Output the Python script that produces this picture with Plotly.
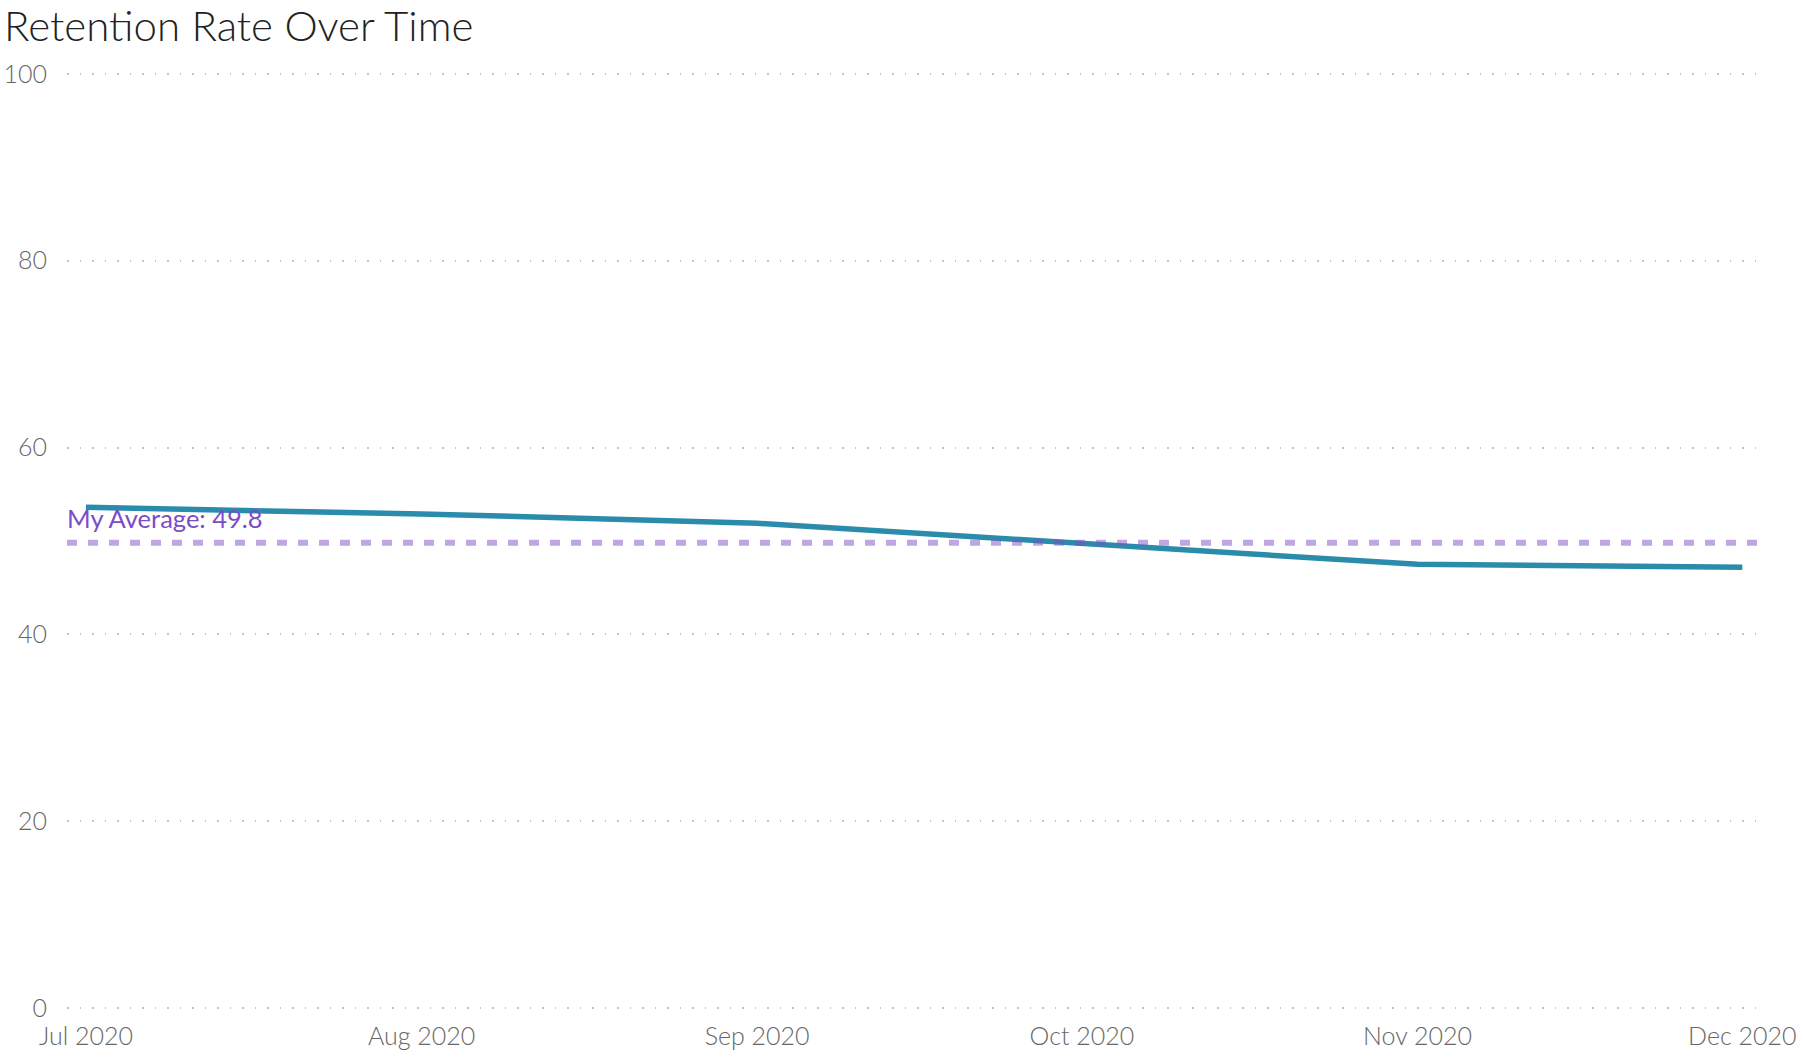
import plotly.graph_objects as go

months = ["2020-07-01", "2020-08-01", "2020-09-01", "2020-10-01", "2020-11-01", "2020-12-01"]
retention = [53.6, 52.9, 51.9, 49.7, 47.5, 47.2]
my_average = 49.8
y_ticks = [0, 20, 40, 60, 80, 100]
x_tick_labels = ["Jul 2020", "Aug 2020", "Sep 2020", "Oct 2020", "Nov 2020", "Dec 2020"]

FONT = "Lato"

fig = go.Figure()
fig.add_trace(go.Scatter(
    x=months, y=retention, mode="lines",
    line=dict(color="#2A8BAB", width=5.5),
    showlegend=False, hoverinfo="x+y",
))

fig.add_shape(
    type="line", xref="paper", yref="y", x0=0, x1=1, y0=my_average, y1=my_average,
    line=dict(color="rgba(126,79,200,0.5)", width=6, dash="10px,11px"),
    layer="above",
)
fig.add_annotation(
    xref="paper", yref="y", x=0, y=my_average, xanchor="left", yanchor="bottom",
    text=f"My Average: {my_average}", showarrow=False, yshift=8, xshift=-2,
    font=dict(family=FONT, size=25.5, color="#7B4CC6"),
)

fig.update_layout(
    width=1803, height=1062,
    margin=dict(l=67, r=44, t=72, b=52),
    paper_bgcolor="white", plot_bgcolor="white",
    font=dict(family=FONT, color="#666666", size=25),
    title=dict(text="Retention Rate Over Time", x=0, xref="container", xanchor="left",
               y=1 - 26 / 1062, yref="container", yanchor="middle", pad=dict(l=4),
               font=dict(family=FONT, size=42, color="#222222", weight=300)),
    xaxis=dict(
        type="date", range=["2020-06-29 06:00", "2020-12-02 13:00"],
        tickvals=months, ticktext=x_tick_labels, automargin=False,
        ticklabeloverflow="allow",
        showgrid=False, zeroline=False, showline=False, ticks="", ticklabelstandoff=9,
        tickfont=dict(family=FONT, size=25, color="#666666", weight=300),
    ),
    yaxis=dict(
        range=[-0.2, 100.2], tickvals=y_ticks, showgrid=True, automargin=False,
        ticklabeloverflow="allow",
        gridcolor="#C4C4C4", griddash="1.5px,11px", gridwidth=1.5,
        zeroline=False, showline=False, ticks="", ticklabelstandoff=19,
        tickfont=dict(family=FONT, size=25, color="#666666", weight=300),
    ),
)

fig.write_html(
    "out.html",
    config={"displayModeBar": False},
    post_script="document.body.style.margin='0';document.body.style.overflow='hidden';",
)
